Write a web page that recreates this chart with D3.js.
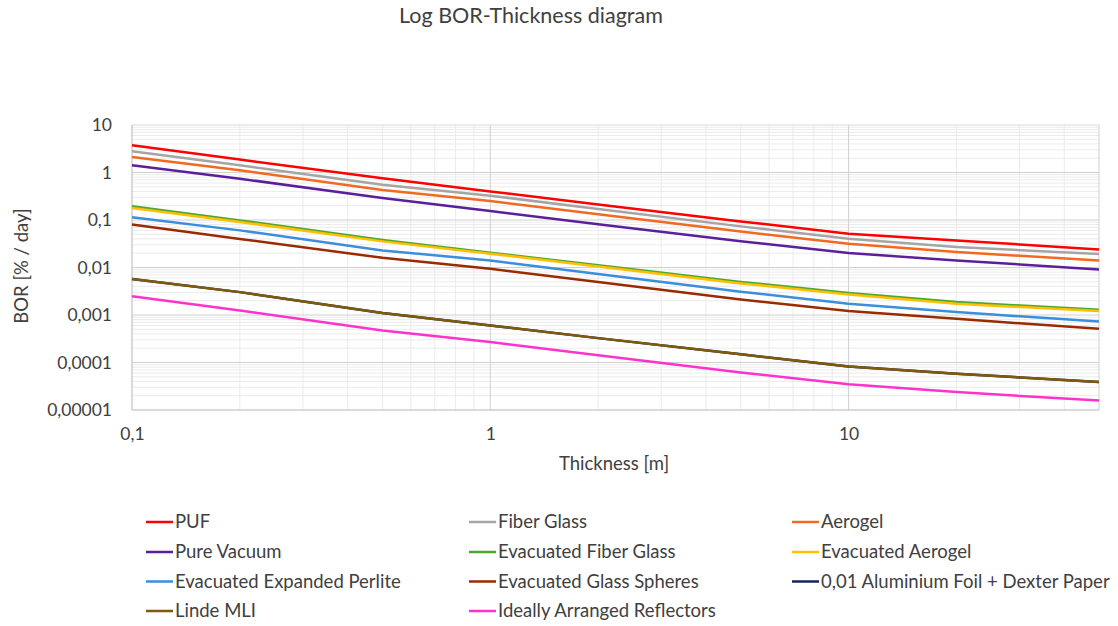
<!DOCTYPE html>
<html>
<head>
<meta charset="utf-8">
<script src="https://cdn.jsdelivr.net/npm/d3@7"></script>
<style>
  body { margin: 0; background: #fff; }
  svg { font-family: Lato, "Noto Sans", sans-serif; }
</style>
</head>
<body>
<svg id="chart"></svg>
<script>
const thickness = [0.1, 0.2, 0.5, 1, 2, 5, 10, 20, 50];

const seriesNames = [
    "PUF", "Fiber Glass", "Aerogel",
    "Pure Vacuum", "Evacuated Fiber Glass", "Evacuated Aerogel",
    "Evacuated Expanded Perlite", "Evacuated Glass Spheres", "0,01 Aluminium Foil + Dexter Paper",
    "Linde MLI", "Ideally Arranged Reflectors"
];

const seriesColors = [
    "#ff0000", "#a5a5a5", "#f26a21",
    "#5c1f9c", "#4ea72e", "#ffc000",
    "#3a8edb", "#9a2b00", "#14245e",
    "#7f5a0a", "#ff33cc"
];

// BOR [% / day]
const puf = [3.73, 1.87, 0.76, 0.40, 0.211, 0.0935, 0.0515, 0.0372, 0.0240];
const fiberGlass = [2.79, 1.42, 0.55, 0.325, 0.170, 0.0734, 0.0405, 0.0269, 0.0192];
const aerogel = [2.12, 1.11, 0.43, 0.25, 0.1315, 0.0571, 0.0318, 0.0211, 0.0141];
const pureVacuum = [1.42, 0.74, 0.29, 0.155, 0.081, 0.0358, 0.0201, 0.0141, 0.0091];
const evacFiberGlass = [0.194, 0.098, 0.038, 0.0205, 0.0111, 0.00498, 0.0029, 0.00187, 0.00129];
const evacAerogel = [0.179, 0.091, 0.0355, 0.0195, 0.01045, 0.00462, 0.0027, 0.00173, 0.00121];
const evacPerlite = [0.114, 0.0605, 0.0229, 0.0141, 0.0073, 0.00309, 0.00173, 0.00115, 0.00073];
const evacGlassSpheres = [0.080, 0.040, 0.016, 0.0094, 0.00493, 0.00213, 0.00121, 0.00083, 0.000513];
const alFoilDexter = [0.0057, 0.00303, 0.0011, 0.0006, 0.000326, 0.000149, 0.0000826, 0.000058, 0.0000387];
const lindeMLI = [0.0057, 0.00303, 0.0011, 0.0006, 0.000326, 0.000149, 0.0000826, 0.000058, 0.0000387];
const reflectors = [0.00247, 0.00125, 0.00047, 0.00027, 0.000142, 0.0000617, 0.0000347, 0.0000238, 0.0000158];

const seriesValues = [
    puf, fiberGlass, aerogel, pureVacuum, evacFiberGlass, evacAerogel,
    evacPerlite, evacGlassSpheres, alFoilDexter, lindeMLI, reflectors
];

const xTickValues = [0.1, 1, 10];
const xTickLabels = ["0,1", "1", "10"];
const yTickValues = [10, 1, 0.1, 0.01, 0.001, 0.0001, 0.00001];
const yTickLabels = ["10", "1", "0,1", "0,01", "0,001", "0,0001", "0,00001"];

const width = 1118, height = 626;
const margin = { top: 125, right: 19, bottom: 216, left: 132 };
const innerW = width - margin.left - margin.right;
const innerH = height - margin.top - margin.bottom;
const textColor = "#404040";

const svg = d3.select("#chart").attr("width", width).attr("height", height);

svg.append("text")
    .attr("x", 531).attr("y", 23)
    .attr("text-anchor", "middle")
    .attr("font-size", 21.5)
    .attr("fill", textColor)
    .text("Log BOR-Thickness diagram");

const g = svg.append("g").attr("transform", `translate(${margin.left},${margin.top})`);

const x = d3.scaleLog().domain([0.1, 50]).range([0, innerW]);
const y = d3.scaleLog().domain([0.00001, 10]).range([innerH, 0]);

// minor grid
const xMinor = [];
[0.1, 1, 10].forEach(d => { for (let k = 2; k <= 9; k++) if (d * k <= 50) xMinor.push(d * k); });
const yMinor = [];
[0.00001, 0.0001, 0.001, 0.01, 0.1, 1].forEach(d => { for (let k = 2; k <= 9; k++) yMinor.push(d * k); });

g.append("g").selectAll("line").data(xMinor).join("line")
    .attr("x1", d => x(d)).attr("x2", d => x(d))
    .attr("y1", 0).attr("y2", innerH)
    .attr("stroke", "#ebebeb").attr("stroke-width", 1);

g.append("g").selectAll("line").data(yMinor).join("line")
    .attr("x1", 0).attr("x2", innerW)
    .attr("y1", d => y(d)).attr("y2", d => y(d))
    .attr("stroke", "#ebebeb").attr("stroke-width", 1);

// major grid
g.append("g").selectAll("line").data(xTickValues.slice(1)).join("line")
    .attr("x1", d => x(d)).attr("x2", d => x(d))
    .attr("y1", 0).attr("y2", innerH)
    .attr("stroke", "#d0d0d0").attr("stroke-width", 1);

g.append("g").selectAll("line").data(yTickValues.slice(1, -1)).join("line")
    .attr("x1", 0).attr("x2", innerW)
    .attr("y1", d => y(d)).attr("y2", d => y(d))
    .attr("stroke", "#d0d0d0").attr("stroke-width", 1);

g.append("rect")
    .attr("width", innerW).attr("height", innerH)
    .attr("fill", "none").attr("stroke", "#d9d9d9").attr("stroke-width", 1);

g.append("line")
    .attr("x1", 0).attr("x2", 0).attr("y1", 0).attr("y2", innerH)
    .attr("stroke", "#c8c8c8");
g.append("line")
    .attr("x1", 0).attr("x2", innerW).attr("y1", innerH).attr("y2", innerH)
    .attr("stroke", "#c8c8c8");

// axes
const yAxis = g.append("g")
    .call(d3.axisLeft(y).tickValues(yTickValues).tickSize(0).tickPadding(20)
        .tickFormat((d, i) => yTickLabels[i]));
yAxis.select(".domain").remove();
yAxis.selectAll("text").attr("font-size", 17.5).attr("fill", textColor)
    .attr("font-family", "Lato, 'Noto Sans', sans-serif");

const xAxis = g.append("g").attr("transform", `translate(0,${innerH})`)
    .call(d3.axisBottom(x).tickValues(xTickValues).tickSize(0).tickPadding(18)
        .tickFormat((d, i) => xTickLabels[i]));
xAxis.select(".domain").remove();
xAxis.selectAll("text").attr("font-size", 17.5).attr("fill", textColor)
    .attr("font-family", "Lato, 'Noto Sans', sans-serif");

svg.append("text")
    .attr("x", 614).attr("y", 470)
    .attr("text-anchor", "middle")
    .attr("font-size", 18.5).attr("fill", textColor)
    .text("Thickness [m]");

svg.append("text")
    .attr("transform", "translate(28,266) rotate(-90)")
    .attr("text-anchor", "middle")
    .attr("font-size", 18.5).attr("fill", textColor)
    .text("BOR [% / day]");

// lines
const line = d3.line()
    .x(d => x(d.t))
    .y(d => y(d.v));

seriesNames.forEach((name, i) => {
    const pts = thickness.map((t, j) => ({ t: t, v: seriesValues[i][j] }));
    g.append("path")
        .datum(pts)
        .attr("fill", "none")
        .attr("stroke", seriesColors[i])
        .attr("stroke-width", 2.5)
        .attr("d", line);
});

// legend, 3 columns
const legendCols = [146, 469, 792];
const legendRows = [522, 552, 581.5, 611];

const legend = svg.append("g").selectAll("g").data(seriesNames).join("g")
    .attr("transform", (d, i) => `translate(${legendCols[i % 3]},${legendRows[Math.floor(i / 3)]})`);

legend.append("line")
    .attr("x1", 0).attr("x2", 27).attr("y1", 0).attr("y2", 0)
    .attr("stroke", (d, i) => seriesColors[i]).attr("stroke-width", 2.5);

legend.append("text")
    .attr("x", 29).attr("y", 0).attr("dy", "0.35em")
    .attr("font-size", 18.5).attr("fill", textColor)
    .text(d => d);
</script>
</body>
</html>
